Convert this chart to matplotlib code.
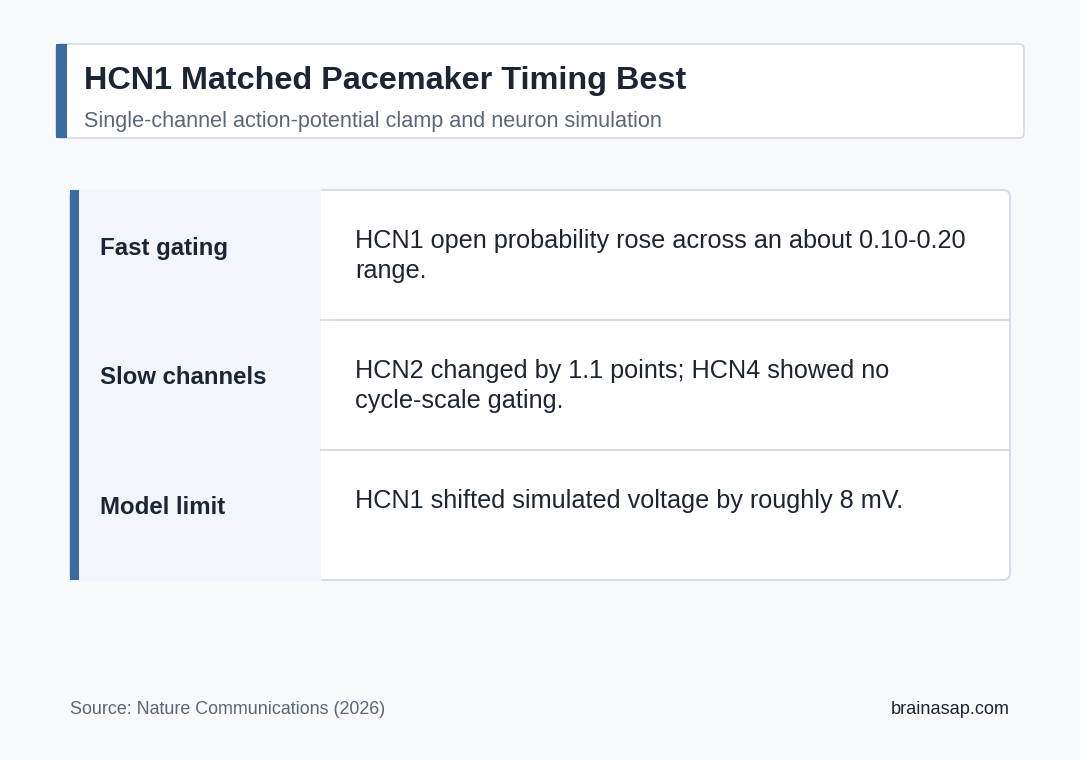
import textwrap
import matplotlib.pyplot as plt
from matplotlib.patches import Rectangle, FancyBboxPatch

plt.rcParams['font.family'] = ['Liberation Sans', 'DejaVu Sans']

title = 'HCN1 Matched Pacemaker Timing Best'
subtitle = 'Single-channel action-potential clamp and neuron simulation'
row_labels = ['Fast gating', 'Slow channels', 'Model limit']
row_texts = [
    'HCN1 open probability rose across an about 0.10-0.20 range.',
    'HCN2 changed by 1.1 points; HCN4 showed no cycle-scale gating.',
    'HCN1 shifted simulated voltage by roughly 8 mV.',
]
source = 'Source: Nature Communications (2026)'
brand = 'brainasap.com'

BG = '#f7f9fb'
ACCENT = '#3b6aa0'
BORDER = '#d3dce6'
DARK = '#1b2533'
MUTED = '#5b6776'
LABEL_BG = '#f2f5f9'

fig = plt.figure(figsize=(10.8, 7.6), dpi=100, facecolor=BG)
ax = fig.add_axes([0, 0, 1, 1])
ax.set_xlim(0, 1080)
ax.set_ylim(760, 0)
ax.axis('off')

# header card
ax.add_patch(FancyBboxPatch((56, 44), 968, 94, boxstyle='round,pad=0,rounding_size=5',
                            facecolor='white', edgecolor=BORDER, linewidth=1.2))
ax.add_patch(Rectangle((56, 44), 11, 94, facecolor=ACCENT, edgecolor='none'))
ax.text(84, 81, title, fontsize=23.3, fontweight='bold', color=DARK, va='center', ha='left')
ax.text(84, 121, subtitle, fontsize=15.6, color=MUTED, va='center', ha='left')

# table
x0, x1, xs = 70, 1010, 321
y0, row_h = 190, 130
n = len(row_labels)
ax.add_patch(FancyBboxPatch((x0, y0), x1 - x0, row_h * n, boxstyle='round,pad=0,rounding_size=7',
                            facecolor='white', edgecolor=BORDER, linewidth=1.4))
ax.add_patch(Rectangle((x0, y0 - 1), xs - x0, row_h * n + 2, facecolor=LABEL_BG, edgecolor='none'))
ax.add_patch(Rectangle((x0, y0), 9, row_h * n, facecolor=ACCENT, edgecolor='none'))

for i, (lab, txt) in enumerate(zip(row_labels, row_texts)):
    top = y0 + i * row_h
    if i > 0:
        ax.plot([xs, x1], [top, top], color=BORDER, linewidth=1.4)
    ax.text(100, top + 58, lab, fontsize=17.3, fontweight='bold', color=DARK, va='center', ha='left')
    lines = textwrap.wrap(txt, 52, break_on_hyphens=False)
    for j, line in enumerate(lines):
        ax.text(355, top + 51 + j * 30, line, fontsize=18.2, color=DARK, va='center', ha='left')

# footer
ax.text(70, 710, source, fontsize=12.9, color=MUTED, va='center', ha='left')
ax.text(1010, 710, brand, fontsize=13.1, color=DARK, va='center', ha='right')

fig.savefig('out.png', dpi=100, facecolor=BG)
